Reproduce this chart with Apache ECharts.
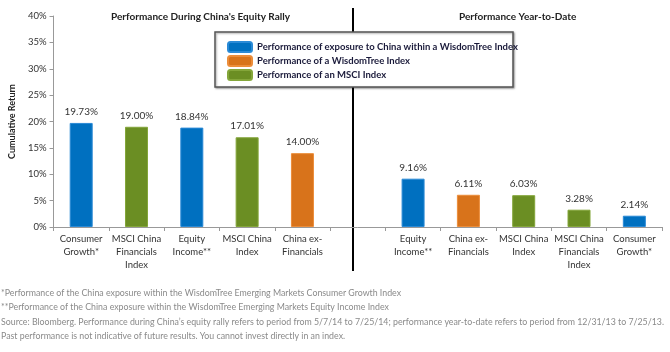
<!DOCTYPE html>
<html>
<head>
<meta charset="utf-8">
<script src="https://cdn.jsdelivr.net/npm/echarts@6/dist/echarts.min.js"></script>
<style>
  html, body { margin: 0; padding: 0; background: #fff; }
  #chart { width: 670px; height: 352px; }
</style>
</head>
<body>
<div id="chart"></div>
<script>
// categories: 5 for the rally, an empty gap slot, 5 for year-to-date
const categories = [
    'Consumer\nGrowth*', 'MSCI China\nFinancials\nIndex', 'Equity\nIncome**', 'MSCI China\nIndex', 'China ex-\nFinancials',
    '',
    'Equity\nIncome**', 'China ex-\nFinancials', 'MSCI China\nIndex', 'MSCI China\nFinancials\nIndex', 'Consumer\nGrowth*'
];
const exposureValues = [19.73, '-', 18.84, '-', '-', '-', 9.16, '-', '-', '-', 2.14];
const wisdomTreeValues = ['-', '-', '-', '-', 14.00, '-', '-', 6.11, '-', '-', '-'];
const msciValues = ['-', 19.00, '-', 17.01, '-', '-', '-', '-', 6.03, 3.28, '-'];
const yTicks = { min: 0, max: 40, interval: 5 };

const seriesNames = [
    'Performance of exposure to China within a WisdomTree Index',
    'Performance of a WisdomTree Index',
    'Performance of an MSCI Index'
];
const footnotes = [
    '*Performance of the China exposure within the WisdomTree Emerging Markets Consumer Growth Index',
    '**Performance of the China exposure within the WisdomTree Emerging Markets Equity Income Index',
    'Source: Bloomberg. Performance during China\u2019s equity rally refers to period from 5/7/14 to 7/25/14; performance year-to-date refers to period from 12/31/13 to 7/25/13.',
    'Past performance is not indicative of future results. You cannot invest directly in an index.'
];

const FONT = 'Lato';
const chart = echarts.init(document.getElementById('chart'));

function barSeries(name, data, color, border) {
    return {
        name: name,
        type: 'bar',
        stack: 'all',
        data: data,
        barWidth: 23,
        itemStyle: { color: color, borderColor: border, borderWidth: 1 },
        label: {
            show: true,
            position: 'top',
            distance: 6,
            formatter: p => p.value.toFixed(2) + '%',
            color: '#333',
            fontFamily: FONT,
            fontSize: 10
        }
    };
}

const options = {
    animation: false,
    textStyle: { fontFamily: FONT },
    grid: { left: 40, right: 8, top: 16, bottom: 125 },
    legend: {
        orient: 'vertical',
        left: 222,
        top: 36,
        itemWidth: 24,
        itemHeight: 10,
        itemGap: 2,
        selectedMode: false,
        textStyle: { fontFamily: FONT, fontSize: 9.5, fontWeight: 'bold', color: '#1a1a3a' },
        data: seriesNames
    },
    xAxis: {
        type: 'category',
        data: categories,
        axisLine: { lineStyle: { color: '#999' } },
        axisTick: { show: true, length: 4, lineStyle: { color: '#999' } },
        axisLabel: {
            interval: 0,
            color: '#333',
            fontFamily: FONT,
            fontSize: 9.5,
            lineHeight: 13,
            margin: 5
        }
    },
    yAxis: {
        type: 'value',
        min: yTicks.min,
        max: yTicks.max,
        interval: yTicks.interval,
        name: 'Cumulative Return',
        nameLocation: 'middle',
        nameRotate: 90,
        nameGap: 30,
        nameTextStyle: { fontFamily: FONT, fontSize: 9, fontWeight: 'bold', color: '#222' },
        axisLine: { show: true, lineStyle: { color: '#999' } },
        axisTick: { show: true, length: 4, lineStyle: { color: '#999' } },
        splitLine: { show: false },
        axisLabel: {
            formatter: '{value}%',
            color: '#333',
            fontFamily: FONT,
            fontSize: 9.5,
            margin: 7
        }
    },
    graphic: [
        {   // legend frame
            type: 'rect',
            z: -1,
            shape: { x: 215, y: 32, width: 298, height: 55 },
            style: { fill: '#fff', stroke: '#555', lineWidth: 1.5, shadowColor: 'rgba(0,0,0,0.35)', shadowOffsetX: 1, shadowOffsetY: 1, shadowBlur: 2 }
        },
        {   // divider between the two periods
            type: 'line',
            z: -2,
            shape: { x1: 353, y1: 8, x2: 353, y2: 271 },
            style: { stroke: '#000', lineWidth: 2 }
        },
        {
            type: 'text', left: 111, top: 12,
            style: { text: "Performance During China's Equity Rally", font: 'bold 10px ' + FONT, fill: '#222' }
        },
        {
            type: 'text', left: 459, top: 12,
            style: { text: 'Performance Year-to-Date', font: 'bold 10px ' + FONT, fill: '#222' }
        },
        {
            type: 'text', left: 1, top: 286,
            style: { text: footnotes.join('\n'), font: '8.8px ' + FONT, fill: '#8a8a8a', lineHeight: 14.3 }
        }
    ],
    series: [
        barSeries(seriesNames[0], exposureValues, '#0070c0', '#2a8ad6'),
        barSeries(seriesNames[1], wisdomTreeValues, '#d8731b', '#ec8d3a'),
        barSeries(seriesNames[2], msciValues, '#6b8e23', '#84a63a')
    ]
};

chart.setOption(options, true);
window.addEventListener('resize', () => chart.resize());
</script>
</body>
</html>
